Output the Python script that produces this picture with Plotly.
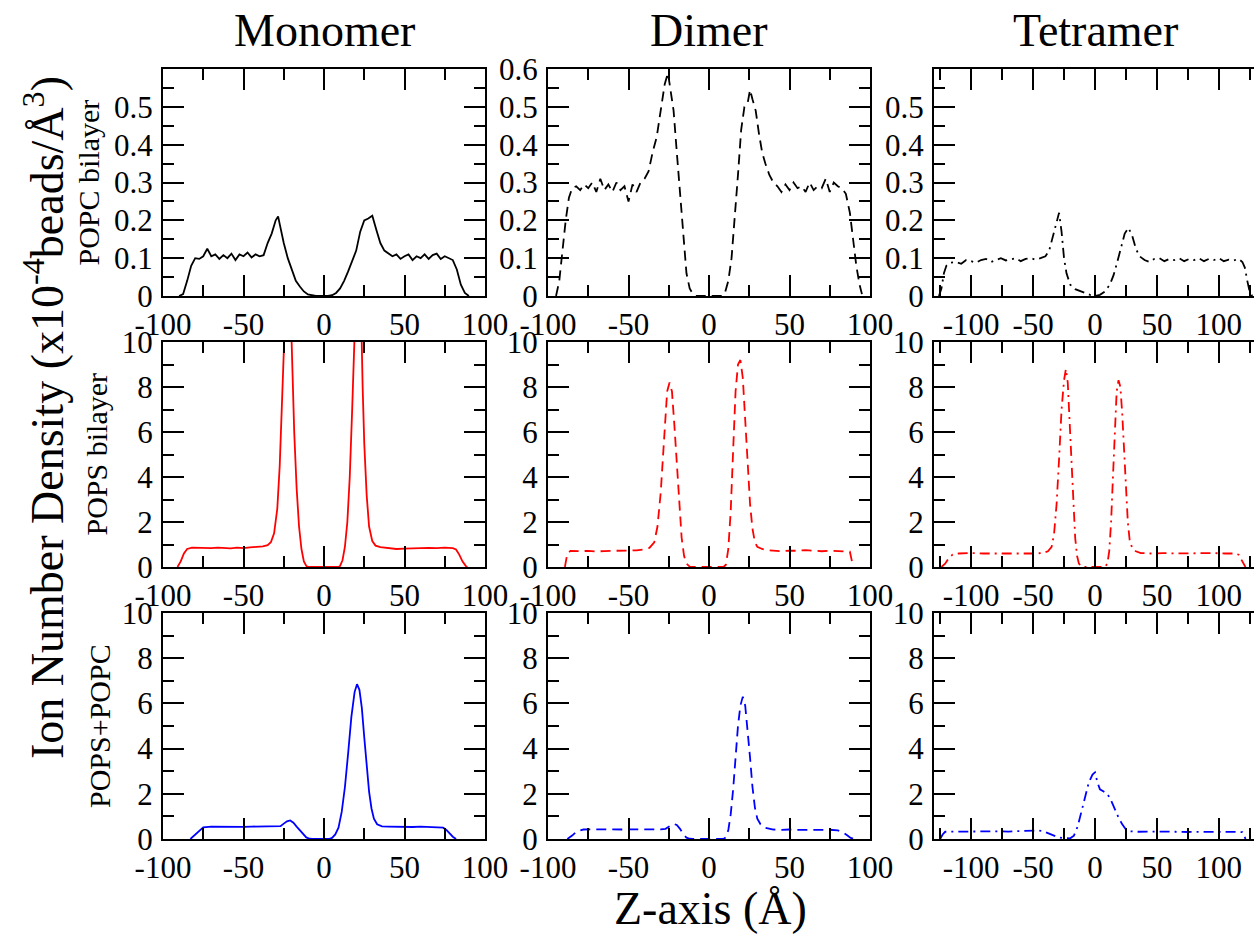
import plotly.graph_objects as go

# ---------------- ion number density profiles (x1e-4 beads/A^3) ----------------
# Monomer / POPC bilayer
z_mono_popc = [-90, -87.5, -85, -82.5, -80, -77.5, -75, -72.5, -70, -67.5, -65, -62.5, -60, -57.5,
               -55, -52.5, -50, -47.5, -45, -42.5, -40, -37.5, -35, -32.5, -30, -28.5, -27.5, -25,
               -22.5, -20, -17.5, -15, -12.5, -10, -7.5, -5, -2.5, 0, 2.5, 5, 7.5, 10, 12.5, 15,
               17.5, 20, 22.5, 25, 27.5, 30, 32.5, 35, 37.5, 40, 42.5, 45, 47.5, 50, 52.5, 55,
               57.5, 60, 62.5, 65, 67.5, 70, 72.5, 75, 77.5, 80, 82.5, 85, 87.5, 90]
d_mono_popc = [0, 0.005, 0.04, 0.08, 0.10, 0.098, 0.105, 0.125, 0.105, 0.11, 0.098, 0.108, 0.10, 0.112,
               0.095, 0.11, 0.105, 0.115, 0.102, 0.11, 0.105, 0.108, 0.14, 0.165, 0.20, 0.21, 0.19, 0.14,
               0.10, 0.07, 0.04, 0.025, 0.012, 0.004, 0.001, 0, 0, 0, 0, 0.002, 0.008, 0.02, 0.04, 0.065,
               0.09, 0.12, 0.17, 0.20, 0.205, 0.212, 0.175, 0.14, 0.12, 0.112, 0.105, 0.11, 0.098, 0.105,
               0.11, 0.095, 0.105, 0.10, 0.11, 0.098, 0.108, 0.112, 0.098, 0.105, 0.10, 0.095, 0.07,
               0.03, 0.008, 0]

# Dimer / POPC bilayer
z_di_popc = [-95, -93, -91, -89, -87, -85, -82.5, -80, -77.5, -75, -72.5, -70, -67.5, -65, -62.5, -60,
             -57.5, -55, -52.5, -50, -47.5, -45, -42.5, -40, -37.5, -35, -32.5, -30, -27.5, -25.5,
             -23.5, -22, -20, -18, -16, -14, -12, -10, -8, 0, 8, 10, 12, 14, 16, 18, 20, 22, 24, 25.5,
             27, 29, 31, 33, 35, 37.5, 40, 42.5, 45, 47.5, 50, 52.5, 55, 57.5, 60, 62.5, 65, 67.5, 70,
             72.5, 75, 77.5, 80, 82.5, 85, 87.5, 89.5, 91.5, 93.5, 95]
d_di_popc = [0, 0.04, 0.12, 0.2, 0.26, 0.285, 0.29, 0.28, 0.295, 0.285, 0.3, 0.275, 0.31, 0.28, 0.295,
             0.275, 0.30, 0.28, 0.29, 0.25, 0.295, 0.275, 0.30, 0.31, 0.33, 0.38, 0.42, 0.49, 0.56, 0.59,
             0.53, 0.49, 0.38, 0.27, 0.15, 0.06, 0.02, 0.005, 0, 0, 0, 0.01, 0.04, 0.1, 0.2, 0.32, 0.44,
             0.5, 0.51, 0.545, 0.52, 0.49, 0.43, 0.38, 0.35, 0.32, 0.3, 0.29, 0.275, 0.295, 0.28, 0.3,
             0.285, 0.29, 0.275, 0.3, 0.28, 0.29, 0.285, 0.31, 0.275, 0.3, 0.29, 0.285, 0.27, 0.22, 0.15,
             0.08, 0.03, 0.005]

# Tetramer / POPC bilayer
z_tet_popc = [-126, -124, -122, -120, -117, -112, -108, -104, -100, -96, -92, -88, -84, -80, -76, -72,
              -68, -64, -60, -56, -52, -48, -44, -40, -37, -34, -31, -29, -27, -25, -23, -20, -16, -12,
              -8, -4, 0, 4, 8, 12, 15, 18, 21, 24, 27, 30, 33, 36, 40, 44, 48, 52, 56, 60, 64, 68, 72,
              76, 80, 84, 88, 92, 96, 100, 104, 108, 112, 116, 119, 121, 123, 125, 127]
d_tet_popc = [0, 0.02, 0.06, 0.08, 0.088, 0.09, 0.085, 0.095, 0.092, 0.088, 0.095, 0.098, 0.09, 0.096,
              0.1, 0.094, 0.098, 0.1, 0.092, 0.098, 0.1, 0.096, 0.1, 0.105, 0.12, 0.16, 0.2, 0.22, 0.17,
              0.1, 0.06, 0.03, 0.018, 0.012, 0.008, 0.003, 0, 0.003, 0.012, 0.03, 0.055, 0.09, 0.13,
              0.165, 0.18, 0.16, 0.125, 0.105, 0.095, 0.09, 0.098, 0.1, 0.092, 0.098, 0.095, 0.1, 0.092,
              0.098, 0.095, 0.1, 0.092, 0.098, 0.095, 0.1, 0.092, 0.096, 0.094, 0.098, 0.09, 0.075, 0.04,
              0.01, 0]

# Monomer / POPS bilayer
z_mono_pops = [-91, -89, -87, -85, -82, -78, -74, -70, -66, -62, -58, -54, -50, -46, -42, -38, -35, -33,
               -31, -29, -27.5, -26, -25, -23.5, -22, -20.5, -19.5, -18.5, -17, -15.5, -14, -12.5, -11,
               -10, 9, 10, 11.5, 13, 14.5, 16, 17.5, 18.5, 20, 21.5, 23, 24, 25, 26.5, 28, 30, 32, 35,
               40, 45, 50, 55, 60, 65, 70, 75, 80, 82, 84, 86, 88, 89]
d_mono_pops = [0, 0.25, 0.6, 0.8, 0.86, 0.85, 0.87, 0.84, 0.86, 0.85, 0.83, 0.86, 0.84, 0.87, 0.88, 0.92,
               0.97, 1.1, 1.5, 2.6, 4.5, 7.5, 10.2, 12.5, 12.8, 11, 8.5, 6, 3.5, 1.8, 0.8, 0.25, 0.05,
               0, 0, 0.05, 0.3, 0.9, 2, 4, 7, 10, 12.5, 12.8, 11.5, 8, 5.5, 3.2, 1.8, 1.15, 0.95, 0.88,
               0.84, 0.8, 0.82, 0.84, 0.83, 0.85, 0.84, 0.86, 0.84, 0.78, 0.55, 0.25, 0.05, 0]

# Dimer / POPS bilayer
z_di_pops = [-89.5, -88, -86, -80, -75, -70, -65, -60, -55, -50, -45, -40, -37, -34, -32, -30, -28, -26,
             -24.5, -23, -21.5, -20, -18.5, -17, -15.5, -14, -12, -10, 9, 10.5, 12, 13.5, 15, 16.5, 18,
             19.5, 21, 22.5, 24, 25.5, 27, 28.5, 30, 33, 36, 40, 45, 50, 55, 60, 65, 70, 75, 80, 85,
             87.5, 88.5, 89.5]
d_di_pops = [0, 0.6, 0.72, 0.7, 0.72, 0.69, 0.71, 0.72, 0.7, 0.73, 0.74, 0.78, 0.85, 1.1, 1.8, 3.3, 5.8,
             7.8, 8.2, 7.8, 6.3, 4.5, 2.6, 1.3, 0.5, 0.15, 0.02, 0, 0, 0.1, 0.8, 2.5, 5.2, 7.8, 9.0, 9.2,
             8.4, 6.5, 4.5, 2.8, 1.7, 1.1, 0.9, 0.8, 0.75, 0.72, 0.7, 0.73, 0.72, 0.75, 0.73, 0.7, 0.72,
             0.71, 0.7, 0.68, 0.35, 0]

# Tetramer / POPS bilayer
z_tet_pops = [-124, -121, -118, -115, -110, -100, -90, -80, -70, -60, -50, -42, -38, -35, -33, -31, -29,
              -27, -25, -23.5, -22, -20.5, -19, -17.5, -16, -14.5, -13, -11, -9, 8, 10, 11.5, 13, 14.5,
              16, 17.5, 19, 20.5, 22, 23.5, 25, 26.5, 28, 30, 33, 37, 45, 55, 65, 75, 85, 95, 105, 113,
              116, 118, 120, 121.5]
d_tet_pops = [0, 0.15, 0.4, 0.55, 0.6, 0.62, 0.6, 0.59, 0.61, 0.6, 0.6, 0.62, 0.7, 0.9, 1.5, 2.8, 4.8,
              7, 8.3, 8.8, 8.2, 6.5, 4.5, 2.6, 1.3, 0.5, 0.15, 0.03, 0, 0, 0.15, 0.7, 2, 4, 6.2, 7.8, 8.3,
              8, 6.8, 5, 3.3, 2, 1.2, 0.85, 0.7, 0.62, 0.6, 0.62, 0.6, 0.61, 0.6, 0.62, 0.6, 0.6, 0.55,
              0.35, 0.1, 0]

# Monomer / POPS+POPC
z_mono_mix = [-83, -80, -77, -75, -70, -65, -60, -55, -50, -45, -40, -35, -30, -27, -25, -23, -21, -19,
              -17, -15, -13, -11, -9, -7, 3, 5, 7, 9, 11, 13, 15, 17, 19, 20.5, 22, 23.5, 25, 26.5, 28,
              29.5, 31, 33, 36, 40, 45, 50, 55, 60, 65, 70, 74, 76, 78, 80, 82]
d_mono_mix = [0, 0.18, 0.4, 0.52, 0.55, 0.54, 0.56, 0.55, 0.54, 0.55, 0.56, 0.54, 0.55, 0.57, 0.68, 0.78,
              0.82, 0.72, 0.55, 0.38, 0.2, 0.07, 0.01, 0, 0, 0.05, 0.2, 0.5, 1.2, 2.3, 3.8, 5.4, 6.5,
              6.85, 6.6, 5.8, 4.5, 3.2, 2.1, 1.35, 0.9, 0.65, 0.56, 0.55, 0.54, 0.55, 0.53, 0.55, 0.54,
              0.52, 0.5, 0.4, 0.25, 0.1, 0]

# Dimer / POPS+POPC
z_di_mix = [-88, -85, -82, -78, -72, -66, -60, -54, -48, -42, -36, -30, -27, -24, -22, -20, -18, -16,
            -14, -12, -10, 9, 10.5, 12, 13.5, 15, 16.5, 18, 19.5, 21, 22.5, 24, 25.5, 27, 28.5, 30, 32,
            35, 40, 45, 50, 55, 60, 65, 70, 75, 80, 83, 86, 88, 90]
d_di_mix = [0, 0.15, 0.35, 0.42, 0.43, 0.42, 0.44, 0.42, 0.43, 0.42, 0.44, 0.43, 0.45, 0.58, 0.67, 0.62,
            0.45, 0.22, 0.06, 0.01, 0, 0, 0.08, 0.4, 1.1, 2.2, 3.6, 5, 5.9, 6.3, 5.9, 4.9, 3.6, 2.3,
            1.4, 0.9, 0.65, 0.5, 0.42, 0.4, 0.42, 0.4, 0.41, 0.4, 0.42, 0.41, 0.38, 0.3, 0.15, 0.05, 0]

# Tetramer / POPS+POPC
z_tet_mix = [-125, -123, -121, -110, -100, -90, -80, -70, -60, -52, -46, -42, -38, -34, -30, -26, -20,
             -17, -14, -11, -8, -5, -2, 0, 2, 4, 7, 10, 13, 16, 19, 22, 25, 28, 35, 45, 55, 65, 75, 85,
             95, 105, 115, 119, 120.5, 121.5]
d_tet_mix = [0, 0.2, 0.32, 0.33, 0.34, 0.33, 0.34, 0.33, 0.34, 0.35, 0.38, 0.35, 0.25, 0.15, 0.08, 0.04,
             0.03, 0.15, 0.55, 1.2, 1.9, 2.5, 2.85, 2.95, 2.5, 2.2, 2.1, 2.0, 1.7, 1.3, 0.95, 0.65, 0.42,
             0.34, 0.32, 0.33, 0.31, 0.32, 0.31, 0.32, 0.31, 0.32, 0.31, 0.3, 0.15, 0]

col_titles = ["Monomer", "Dimer", "Tetramer"]
row_titles = ["POPC bilayer", "POPS bilayer", "POPS+POPC"]
row_colors = ["#000000", "#ff0000", "#0000ff"]
col_dashes = ["solid", "10px,6px", "10px,5px,2px,5px"]

series = [
    [(z_mono_popc, d_mono_popc), (z_di_popc, d_di_popc), (z_tet_popc, d_tet_popc)],
    [(z_mono_pops, d_mono_pops), (z_di_pops, d_di_pops), (z_tet_pops, d_tet_pops)],
    [(z_mono_mix, d_mono_mix), (z_di_mix, d_di_mix), (z_tet_mix, d_tet_mix)],
]

# ---------------- layout geometry (pixels) ----------------
W, H = 1254, 934
col_px = [(163, 485), (548, 870), (934, 1254)]
row_px = [(69, 296), (342, 567), (613, 839)]
x_ranges = [[-100, 100], [-100, 100], [-130, 128.4]]
x_ticks = [-100, -50, 0, 50, 100]

FONT = "Liberation Serif"
fig = go.Figure()
layout = dict(
    template="none",
    width=W, height=H, margin=dict(l=0, r=0, t=0, b=0, pad=0, autoexpand=False),
    paper_bgcolor="white", plot_bgcolor="white", showlegend=False,
    font=dict(family=FONT, color="black", size=28),
)

axis_common = dict(
    showline=True, linecolor="black", linewidth=2, mirror="ticks",
    ticks="inside", ticklen=21, tickwidth=2, tickcolor="black",
    showgrid=False, zeroline=False, automargin=False,
    tickfont=dict(family=FONT, size=31, color="black"),
)

extra_axis = 10  # ids for the right-hand tick axes of the last column (frame runs past the edge)
for r in range(3):
    for c in range(3):
        k = r * 3 + c + 1
        xn = "x" if k == 1 else f"x{k}"
        yn = "y" if k == 1 else f"y{k}"
        z, d = series[r][c]
        fig.add_trace(go.Scatter(
            x=z, y=d, mode="lines", xaxis=xn, yaxis=yn,
            line=dict(color=row_colors[r], width=1.8, dash=col_dashes[c]),
            hoverinfo="skip",
        ))
        x0, x1 = col_px[c]
        y0, y1 = row_px[r]
        xa = dict(axis_common,
                  domain=[x0 / W, x1 / W], range=x_ranges[c], anchor=yn,
                  tickvals=x_ticks, ticktext=[str(v) for v in x_ticks],
                  minor=dict(dtick=25, tick0=0, ticks="inside", ticklen=11,
                             tickwidth=2, tickcolor="black", showgrid=False))
        if r == 0:
            top = 0.6
            yt = [0, 0.1, 0.2, 0.3, 0.4, 0.5, 0.6] if c == 1 else [0, 0.1, 0.2, 0.3, 0.4, 0.5]
            ytext = ["0" if v == 0 else f"{v:.1f}" for v in yt]
            mdt = 0.05
        else:
            top = 10
            yt = [0, 2, 4, 6, 8, 10]
            ytext = [str(v) for v in yt]
            mdt = 1
        yminor = dict(dtick=mdt, tick0=0, ticks="inside", ticklen=11,
                      tickwidth=2, tickcolor="black", showgrid=False)
        ya = dict(axis_common,
                  domain=[1 - y1 / H, 1 - y0 / H], range=[0, top], anchor=xn,
                  tickvals=yt, ticktext=ytext, ticklabelstandoff=2, minor=yminor)
        if c == 2:
            # left spine only; right-hand ticks come from an overlaid axis without a line
            ya["mirror"] = False
            layout[f"yaxis{extra_axis}"] = dict(
                overlaying=yn, side="right", anchor=xn, range=[0, top],
                showline=False, showgrid=False, zeroline=False, automargin=False,
                ticks="inside", ticklen=21, tickwidth=2, tickcolor="black",
                tickvals=yt, showticklabels=False, minor=yminor)
            extra_axis += 1
        layout["xaxis" if k == 1 else f"xaxis{k}"] = xa
        layout["yaxis" if k == 1 else f"yaxis{k}"] = ya

annotations = []
col_centers = [324, 709, 1095]
for c, t in enumerate(col_titles):
    annotations.append(dict(text=t, x=col_centers[c] / W, y=1 - 30 / H, xref="paper", yref="paper",
                            xanchor="center", yanchor="middle", showarrow=False,
                            font=dict(family=FONT, size=46, color="black")))
row_label_x = [88, 96, 99]
for r, t in enumerate(row_titles):
    yc = (row_px[r][0] + row_px[r][1]) / 2
    annotations.append(dict(text=t, x=row_label_x[r] / W, y=1 - yc / H, xref="paper", yref="paper",
                            xanchor="center", yanchor="middle", textangle=-90, showarrow=False,
                            font=dict(family=FONT, size=30, color="black")))
annotations.append(dict(text="Ion Number Density (x10<sup>-4</sup>beads/Å<sup>3</sup>)",
                        x=44 / W, y=1 - 418 / H, xref="paper", yref="paper",
                        xanchor="center", yanchor="middle", textangle=-90, showarrow=False,
                        font=dict(family=FONT, size=46, color="black")))
annotations.append(dict(text="Z-axis (Å)", x=710 / W, y=1 - 908 / H, xref="paper", yref="paper",
                        xanchor="center", yanchor="middle", showarrow=False,
                        font=dict(family=FONT, size=46, color="black")))
layout["annotations"] = annotations

fig.update_layout(**layout)
fig.write_html("out.html")
